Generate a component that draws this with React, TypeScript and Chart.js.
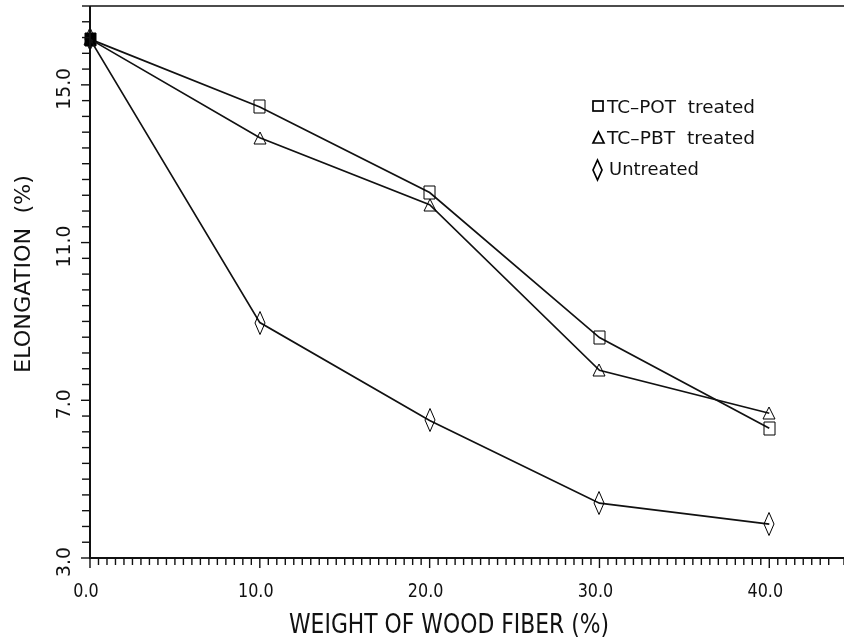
import React, { useEffect, useRef } from 'react';
import { Chart, registerables } from 'chart.js';

Chart.register(...registerables);

// ---- data ----
const fiberWeight = [0, 10, 20, 30, 40];
const potTreated = [16.16, 14.44, 12.27, 8.59, 6.29];
const pbtTreated = [16.16, 13.66, 11.96, 7.76, 6.67];
const untreated = [16.16, 8.97, 6.49, 4.39, 3.86];
const seriesNames = ['TC\u2013POT  treated', 'TC\u2013PBT  treated', 'Untreated'];
const xMajorTicks = [0, 10, 20, 30, 40];
const yMajorTicks = [3, 7, 11, 15];
const xTitle = 'WEIGHT OF WOOD FIBER (%)';
const yTitle = 'ELONGATION  (%)';

const INK = '#111';

function makeMarker(kind: string, filled: boolean): HTMLCanvasElement {
  const c = document.createElement('canvas');
  const g = c.getContext('2d') as CanvasRenderingContext2D;
  g.strokeStyle = '#000';
  g.fillStyle = '#000';
  g.lineWidth = 2;
  if (kind === 'square') {
    c.width = 15; c.height = 17;
    g.beginPath();
    g.rect(2, 2, 11, 13);
  } else if (kind === 'triangle') {
    c.width = 16; c.height = 16;
    g.beginPath();
    g.moveTo(8, 2);
    g.lineTo(14, 14);
    g.lineTo(2, 14);
    g.closePath();
  } else {
    c.width = 14; c.height = 26;
    g.beginPath();
    g.moveTo(7, 1.5);
    g.lineTo(12, 13);
    g.lineTo(7, 24.5);
    g.lineTo(2, 13);
    g.closePath();
  }
  if (filled) g.fill();
  g.stroke();
  return c;
}

function fitText(
  ctx: CanvasRenderingContext2D,
  text: string,
  x: number,
  y: number,
  font: string,
  opts: { width?: number; scale?: number; align?: 'left' | 'center'; rotate?: number }
) {
  ctx.save();
  ctx.font = font;
  ctx.textBaseline = 'alphabetic';
  ctx.textAlign = 'left';
  const w = ctx.measureText(text).width;
  const sx = opts.width ? opts.width / w : opts.scale || 1;
  ctx.translate(x, y);
  if (opts.rotate) ctx.rotate(opts.rotate);
  ctx.scale(sx, 1);
  const start = opts.align === 'center' ? -w / 2 : 0;
  ctx.fillStyle = INK;
  ctx.fillText(text, start, 0);
  ctx.restore();
}

const decorPlugin = {
  id: 'decor',
  beforeDatasetsDraw(chart: any) {
    chart.ctx.imageSmoothingEnabled = false;
  },
  afterDatasetsDraw(chart: any) {
    chart.ctx.imageSmoothingEnabled = true;
  },
  afterDraw(chart: any) {
    const ctx: CanvasRenderingContext2D = chart.ctx;
    const xs = chart.scales.x;
    const ys = chart.scales.y;
    const left = xs.left;
    const right = xs.right;
    const top = ys.top;
    const bottom = ys.bottom;

    ctx.save();
    ctx.strokeStyle = INK;
    ctx.lineCap = 'butt';

    // axes lines
    ctx.lineWidth = 2;
    ctx.beginPath();
    ctx.moveTo(left, top);
    ctx.lineTo(left, bottom);
    ctx.lineTo(right, bottom);
    ctx.stroke();
    // top frame
    ctx.lineWidth = 1.4;
    ctx.beginPath();
    ctx.moveTo(left, top);
    ctx.lineTo(right, top);
    ctx.stroke();

    // x ticks (outward, below)
    ctx.lineWidth = 1.4;
    for (const t of xs.ticks) {
      const v = t.value;
      const px = xs.getPixelForValue(v);
      const major = Math.abs(v / 10 - Math.round(v / 10)) < 1e-6;
      ctx.beginPath();
      ctx.moveTo(px, bottom);
      ctx.lineTo(px, bottom + (major ? 10 : 7));
      ctx.stroke();
    }
    // y ticks (outward, left)
    for (const t of ys.ticks) {
      const v = t.value;
      const py = ys.getPixelForValue(v);
      const major = Math.abs((v - 3) / 4 - Math.round((v - 3) / 4)) < 1e-6;
      ctx.beginPath();
      ctx.moveTo(left, py);
      ctx.lineTo(left - (major ? 9 : 8), py);
      ctx.stroke();
    }
    ctx.restore();

    // tick labels
    for (const v of xMajorTicks) {
      const px = xs.getPixelForValue(v);
      fitText(ctx, v.toFixed(1), px - 4, 597, '20px "DejaVu Sans"', { scale: 0.8, align: 'center' });
    }
    for (const v of yMajorTicks) {
      const py = ys.getPixelForValue(v);
      fitText(ctx, v.toFixed(1), 70, py + 4, '20px "DejaVu Sans"', {
        scale: 0.94,
        align: 'center',
        rotate: -Math.PI / 2,
      });
    }

    // axis titles
    fitText(ctx, xTitle, 289, 633, '27px "DejaVu Sans"', { width: 320 });
    fitText(ctx, yTitle, 30, 373, '20.5px "DejaVu Sans"', { width: 198, rotate: -Math.PI / 2 });

    // legend
    ctx.save();
    ctx.strokeStyle = '#000';
    ctx.lineWidth = 1.7;
    ctx.strokeRect(593, 101, 10, 10);
    ctx.beginPath();
    ctx.moveTo(598.5, 132);
    ctx.lineTo(604, 143);
    ctx.lineTo(593, 143);
    ctx.closePath();
    ctx.stroke();
    ctx.beginPath();
    ctx.moveTo(597.5, 160);
    ctx.lineTo(602, 170);
    ctx.lineTo(597.5, 180);
    ctx.lineTo(593, 170);
    ctx.closePath();
    ctx.stroke();
    ctx.restore();

    const legendFont = '17.5px "DejaVu Sans"';
    fitText(ctx, seriesNames[0], 607, 113, legendFont, { width: 148 });
    fitText(ctx, seriesNames[1], 607, 144, legendFont, { width: 148 });
    fitText(ctx, seriesNames[2], 609, 175, legendFont, { width: 90 });
  },
};

export default function App() {
  const ref = useRef<HTMLCanvasElement | null>(null);

  useEffect(() => {
    if (!ref.current) return;
    const square = makeMarker('square', false);
    const squareFilled = makeMarker('square', true);
    const triangle = makeMarker('triangle', false);
    const diamond = makeMarker('diamond', false);

    const mk = (vals: number[], style: any) => ({
      data: fiberWeight.map((x, i) => ({ x, y: vals[i] })),
      borderColor: INK,
      borderWidth: 1.7,
      pointStyle: style,
      pointRadius: 6,
      fill: false,
      tension: 0,
      clip: false as any,
    });

    const chart = new Chart(ref.current, {
      type: 'line',
      data: {
        datasets: [
          mk(untreated, diamond),
          mk(pbtTreated, triangle),
          mk(potTreated, (c: any) => (c.dataIndex === 0 ? squareFilled : square)),
        ],
      },
      options: {
        responsive: false,
        animation: false,
        devicePixelRatio: 1,
        layout: { autoPadding: false, padding: { top: 6, right: 0, left: 0, bottom: 0 } },
        plugins: { legend: { display: false }, tooltip: { enabled: false } },
        scales: {
          x: {
            type: 'linear',
            min: 0,
            max: 44.4,
            ticks: { stepSize: 0.5, display: false },
            grid: { display: false },
            border: { display: false },
            afterFit: (s: any) => {
              s.height = 83;
            },
          },
          y: {
            type: 'linear',
            min: 3,
            max: 17,
            ticks: { stepSize: 0.4, display: false },
            grid: { display: false },
            border: { display: false },
            afterFit: (s: any) => {
              s.width = 90;
            },
          },
        },
      },
      plugins: [decorPlugin],
    } as any);
    return () => chart.destroy();
  }, []);

  return (
    <div style={{ position: 'absolute', left: 0, top: 0, width: 844, height: 641, background: '#fff' }}>
      <canvas ref={ref} width={844} height={641} style={{ display: 'block', width: 844, height: 641 }} />
    </div>
  );
}
